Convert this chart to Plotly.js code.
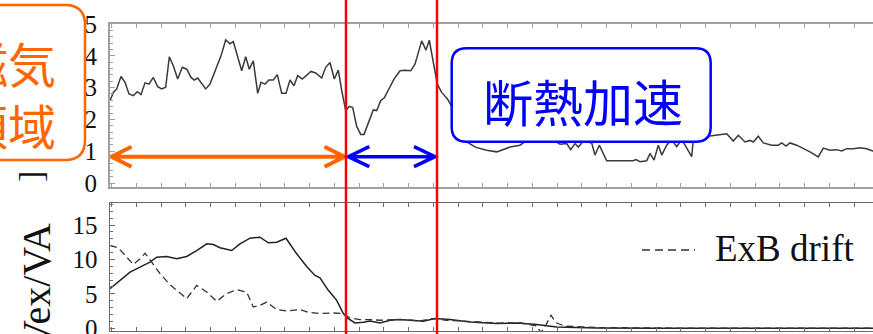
<!DOCTYPE html>
<html><head><meta charset="utf-8">
<script src="https://cdn.plot.ly/plotly-3.0.1.min.js"></script>
<style>html,body{margin:0;padding:0;overflow:hidden;background:#fff}</style>
</head><body><div id="chart" style="width:880px;height:334px"></div>
<script>
// ---- data (time in arbitrary units) ----
const tTop = [0,3.3,6.7,11,15,19,23.3,27.3,31,35,39,43.3,47.7,51.7,55.7,59.3,63.3,67.7,72.3,76.7,81,84.3,87.7,91.7,95.7,100,105,111,115.7,120,123.3,127.7,131.7,135.7,139.3,143.3,147.7,151,155,159,163.3,167.3,171.7,176,180,184,187.7,192.3,196.7,201,205.7,211.7,215.7,220,224.3,228.3,231.7,235.7,239.3,242.7,246.7,250.7,254,258.3,263.3,266.7,270.7,274.3,279.3,284,290,295,300.7,305,311.7,316,319.3,323.3,327.3,331.7,337.3,343.3,348,352,356.7,366,376.7,386.7,400,410,416.7,423,430,438,446,450,456.7,460.7,465,468.3,473.3,481.7,485,489.3,496.7,505,515,523,526,530,536.7,540,544,548.3,551.7,556.7,561.7,566.7,571.7,576.7,581.7,583.3,590,600,608.3,616.7,623.3,628.3,635,640,643.3,648.3,653.3,661.7,668.3,671.7,676,680,686.7,700,708.3,713.3,720,726.7,731.7,736.7,743.3,750,756.7,762.7,770];
const ratioTop = [2.59,2.85,2.96,3.35,3.17,2.80,2.75,2.87,2.78,3.15,3.11,3.32,3.03,2.96,3.01,3.97,3.69,3.27,3.64,3.58,3.32,3.24,3.30,3.11,2.96,3.11,3.53,4.00,4.50,4.38,4.45,3.95,3.53,3.97,3.58,3.84,2.82,3.17,3.11,3.24,3.24,3.41,2.82,2.82,3.24,3.06,3.38,3.27,3.38,3.51,3.46,3.30,3.64,3.79,3.27,3.55,2.91,2.28,2.41,2.37,1.78,1.53,1.53,1.86,2.30,2.28,2.59,2.68,3.01,3.27,3.53,3.55,3.53,3.74,4.47,4.18,4.49,3.84,3.11,2.85,2.65,2.33,1.90,1.55,1.29,1.12,1.03,0.98,1.13,1.19,1.34,1.45,1.50,1.40,1.30,1.22,1.24,1.05,1.24,1.13,1.32,1.26,0.88,1.19,0.70,0.70,0.69,0.70,0.74,0.67,0.70,0.93,0.72,1.19,0.88,1.19,1.37,1.14,1.37,1.10,0.83,1.37,1.55,1.48,1.52,1.55,1.32,1.50,1.29,1.34,1.29,1.47,1.26,1.19,1.19,1.26,1.16,1.26,1.19,0.98,0.82,1.10,1.03,1.05,1.01,1.08,1.08,1.11,1.08,1.01,1.00];

const tVex = [0,10,20,30,40,46.7,56.7,66.7,76.7,86.7,96.7,103.3,110,121.7,130,140,150,158.3,166.7,176,186.7,196.7,205,210,218.3,226.7,233.3,238.3,245,253.3,260,270,280,290,303.3,313.3,325,340,360,386.7,406.7,426.7,446.7,486.7,550,770];
const vexVa = [5.75,6.96,8.16,8.88,9.61,10.33,10.43,10.1,10.43,11.3,12.27,12.17,11.7,11.3,12.27,13.09,13.24,12.42,12.51,13.09,10.82,8.99,7.68,7.34,5.51,4.06,2.13,1.41,0.77,0.87,1.06,0.77,1.16,1.26,1.16,1.01,1.41,1.26,0.91,0.68,0.77,0.54,0.19,0.05,0,0];

const tExb = [0,8.3,16.7,23.3,30,35,41.7,50,60,70,76.7,86.7,96.7,106.7,116.7,126.7,136.7,143.3,150,156.7,166.7,176.7,190,198.3,210,223.3,233.3,240,250,260,270,283.3,296.7,310,323.3,336.7,360,390,410,426,431,436,441,446,455,490,590,770];
const exbVa = [12.03,11.7,10.33,9.28,10.1,10.91,9.61,7.93,6.33,5.03,4.3,6.23,5.26,3.91,5.03,5.61,5.26,3.09,3.33,3.81,2.71,2.51,2.71,2.32,2.13,2.22,2.13,1.49,1.26,1.26,1.16,1.26,1.26,1.06,1.41,1.16,0.95,0.75,0.8,0.35,-0.6,0.5,1.9,0.8,0.3,0.1,0.0,0.0];

const phaseBounds = [236, 327];
const yTicksTop = [0,1,2,3,4,5];
const yTicksBottom = [0,5,10,15];
const legendLabel = 'ExB drift';
const topTitle = ']';
const bottomTitle = 'Vex/VA';
const orangeLabel = '磁気<br>領域';
const blueLabel = '断熱加速';

// ---- styling ----
const serif = 'Liberation Serif, Times New Roman, serif';
const cjk = 'Noto Sans CJK JP, sans-serif';
const ORANGE = '#ff6600', BLUE = '#0000ff', RED = '#ff0000';
const W = 880, H = 334, L = 110;
const px2paperX = p => (p - L) / (W - L);
const py2paperY = p => (H - p) / H;

function rr(x0, y0, x1, y1, rx, ry) {
  return `M${x0+rx},${y0} L${x1-rx},${y0} Q${x1},${y0} ${x1},${y0+ry} L${x1},${y1-ry} Q${x1},${y1} ${x1-rx},${y1} L${x0+rx},${y1} Q${x0},${y1} ${x0},${y1-ry} L${x0},${y0+ry} Q${x0},${y0} ${x0+rx},${y0} Z`;
}
function dblArrow(x0, x1, y, dx, dy) {
  return `M${x0},${y} L${x1},${y} M${x0+dx},${y+dy} L${x0},${y} L${x0+dx},${y-dy} M${x1-dx},${y+dy} L${x1},${y} L${x1-dx},${y-dy}`;
}

const traces = [
  {x: tTop, y: ratioTop, xaxis: 'x', yaxis: 'y', mode: 'lines', line: {color: '#3a3a3a', width: 1.5}, showlegend: false},
  {x: tVex, y: vexVa, xaxis: 'x2', yaxis: 'y2', mode: 'lines', line: {color: '#222', width: 1.5}, showlegend: false},
  {x: tExb, y: exbVa, xaxis: 'x2', yaxis: 'y2', mode: 'lines', line: {color: '#333', width: 1.3, dash: '7px,4px'}, name: legendLabel, showlegend: false}
];

const xCommon = {range: [0, 770], showticklabels: false, ticks: 'inside', ticklen: 4, dtick: 24.75, tick0: 1.7,
  showline: true, mirror: 'ticks', showgrid: false, zeroline: false};
const layout = {
  width: W, height: H, margin: {l: L, r: 0, t: 0, b: 0},
  paper_bgcolor: '#fff', plot_bgcolor: '#fff', showlegend: false,
  xaxis: Object.assign({}, xCommon, {anchor: 'y', linecolor: '#a0a0a0', linewidth: 2, tickcolor: '#a0a0a0'}),
  xaxis2: Object.assign({}, xCommon, {anchor: 'y2', linecolor: '#6a6a6a', linewidth: 1.5, tickcolor: '#6a6a6a'}),
  yaxis: {domain: [0.441, 0.928], range: [-0.116, 5.0], tickvals: yTicksTop, ticks: 'inside', ticklen: 5,
    showline: true, mirror: 'ticks', linecolor: '#a0a0a0', linewidth: 2, tickcolor: '#a0a0a0', showgrid: false, zeroline: false,
    minor: {ticks: 'inside', ticklen: 3, dtick: 0.2, tickcolor: '#a0a0a0'}, ticklabeloverflow: 'allow',
    tickfont: {family: serif, size: 25, color: '#111'}, ticklabelstandoff: 6},
  yaxis2: {domain: [0.009, 0.392], range: [-0.4, 18.2], tickvals: yTicksBottom, ticks: 'inside', ticklen: 5,
    showline: true, mirror: 'ticks', linecolor: '#6a6a6a', linewidth: 1.5, tickcolor: '#6a6a6a', showgrid: false, zeroline: false,
    minor: {ticks: 'inside', ticklen: 3, dtick: 1, tickcolor: '#6a6a6a'}, ticklabeloverflow: 'allow',
    tickfont: {family: serif, size: 25, color: '#111'}, ticklabelstandoff: 6},
  shapes: [
    // legend sample
    {type: 'line', xref: 'paper', yref: 'paper', x0: px2paperX(642), x1: px2paperX(695), y0: py2paperY(250), y1: py2paperY(250),
      line: {color: '#333', width: 1.3, dash: '8px,5px'}},
    // orange box
    {type: 'path', xref: 'paper', yref: 'paper', layer: 'above',
      path: rr(px2paperX(-70), py2paperY(160), px2paperX(85), py2paperY(5), 20/(W-L), 20/H),
      fillcolor: '#fff', line: {color: ORANGE, width: 2.5}},
    // blue box
    {type: 'path', xref: 'paper', yref: 'paper', layer: 'above',
      path: rr(px2paperX(451.7), py2paperY(141.7), px2paperX(710.7), py2paperY(48.3), 15/(W-L), 15/H),
      fillcolor: '#fff', line: {color: BLUE, width: 2.5}},
    // arrows
    {type: 'path', xref: 'x', yref: 'paper', layer: 'above',
      path: dblArrow(1.5, phaseBounds[0] - 1.5, py2paperY(156.7), 20, 10/H), line: {color: ORANGE, width: 4}},
    {type: 'path', xref: 'x', yref: 'paper', layer: 'above',
      path: dblArrow(phaseBounds[0] + 2.3, phaseBounds[1] - 2, py2paperY(156.7), 21, 10/H), line: {color: BLUE, width: 3.5}},
    // red lines
    ...phaseBounds.map(b => ({type: 'line', xref: 'x', yref: 'paper', layer: 'above', x0: b, x1: b, y0: 0, y1: 1,
      line: {color: RED, width: 2.5}}))
  ],
  annotations: [
    {xref: 'paper', yref: 'paper', x: px2paperX(30), y: py2paperY(177), xanchor: 'center', yanchor: 'middle', text: topTitle, textangle: -90, showarrow: false,
      font: {family: serif, size: 34, color: '#111'}},
    {xref: 'paper', yref: 'paper', x: px2paperX(36), y: py2paperY(286), xanchor: 'center', yanchor: 'middle', text: bottomTitle, textangle: -90, showarrow: false,
      font: {family: serif, size: 40, color: '#111'}},
    {xref: 'paper', yref: 'paper', x: px2paperX(7.5), y: py2paperY(93.3), xanchor: 'center', yanchor: 'middle', text: orangeLabel, showarrow: false,
      font: {family: cjk, size: 48, color: ORANGE}},
    {xref: 'paper', yref: 'paper', x: px2paperX(582.5), y: py2paperY(99.5), xanchor: 'center', yanchor: 'middle', text: blueLabel, showarrow: false,
      font: {family: cjk, size: 50, color: BLUE}},
    {xref: 'paper', yref: 'paper', x: px2paperX(713), y: py2paperY(248), xanchor: 'left', yanchor: 'middle', text: legendLabel, showarrow: false,
      font: {family: serif, size: 37, color: '#111'}}
  ]
};
Plotly.newPlot('chart', traces, layout, {displayModeBar: false, staticPlot: true});
</script></body></html>
